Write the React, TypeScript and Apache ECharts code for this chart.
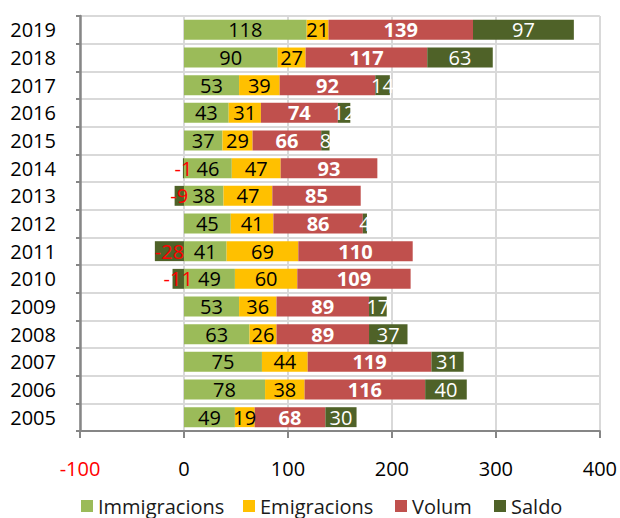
import React, { useEffect, useRef } from "react";
import * as echarts from "echarts";

// Migration flows per year (thousands)
const years = ["2005", "2006", "2007", "2008", "2009", "2010", "2011", "2012", "2013", "2014", "2015", "2016", "2017", "2018", "2019"];
const immigracions = [49, 78, 75, 63, 53, 49, 41, 45, 38, 46, 37, 43, 53, 90, 118];
const emigracions = [19, 38, 44, 26, 36, 60, 69, 41, 47, 47, 29, 31, 39, 27, 21];
const volum = [68, 116, 119, 89, 89, 109, 110, 86, 85, 93, 66, 74, 92, 117, 139];
const saldo = [30, 40, 31, 37, 17, -11, -28, 4, -9, -1, 8, 12, 14, 63, 97];

const FONT = "'Open Sans', 'DejaVu Sans', sans-serif";
const FS = 20;
const TEXT = "#000000";
const AXIS = "#868686";
const GRID = "#d9d9d9";

const COLORS = {
  immigracions: "#9BBB59",
  emigracions: "#FFC000",
  volum: "#C0504D",
  saldo: "#4F6228",
};

export default function App() {
  const ref = useRef<HTMLDivElement>(null);

  useEffect(() => {
    document.body.style.margin = "0";
    if (!ref.current) return;
    const chart = echarts.init(ref.current, undefined, { renderer: "svg" });

    const labelBase = {
      show: true,
      position: "inside",
      fontFamily: FONT,
      fontSize: FS,
    };

    const legendAt = (name: string, left: number) => ({
      data: [name],
      left,
      top: 496,
      padding: 0,
      orient: "horizontal",
      itemWidth: 12,
      itemHeight: 12,
      icon: "rect",
      textStyle: { fontFamily: FONT, fontSize: FS, color: "#1a1a1a" },
    });

    chart.setOption({
      animation: false,
      backgroundColor: "#ffffff",
      textStyle: { fontFamily: FONT },
      grid: { left: 80, right: 18, top: 16, bottom: 87 },
      legend: [
        legendAt("Immigracions", 81),
        legendAt("Emigracions", 243),
        legendAt("Volum", 395),
        legendAt("Saldo", 494),
      ],
      xAxis: {
        type: "value",
        min: -100,
        max: 400,
        interval: 100,
        axisLine: { show: true, lineStyle: { color: AXIS, width: 2 } },
        axisTick: { show: true, length: 7, lineStyle: { color: AXIS, width: 2 } },
        axisLabel: {
          margin: 27,
          fontFamily: FONT,
          fontSize: FS,
          color: (v: any) => (Number(v) < 0 ? "#FF0000" : TEXT),
        },
        splitLine: { show: true, lineStyle: { color: GRID, width: 2 } },
      },
      yAxis: [
        {
          type: "category",
          data: years,
          axisLine: { show: false },
          axisTick: { show: false },
          axisLabel: { margin: 24, fontFamily: FONT, fontSize: FS, color: TEXT },
          splitLine: { show: true, lineStyle: { color: GRID, width: 2 } },
        },
        {
          // Vertical axis line crossing at zero, with boundary ticks
          type: "category",
          data: years,
          position: "left",
          axisLine: { show: true, onZero: true, lineStyle: { color: AXIS, width: 2.5 } },
          axisTick: { show: true, length: 4, lineStyle: { color: AXIS, width: 2 } },
          axisLabel: { show: false },
          splitLine: { show: false },
        },
      ],
      series: [
        {
          name: "Immigracions",
          type: "bar",
          stack: "total",
          barWidth: "72%",
          yAxisIndex: 0,
          itemStyle: { color: COLORS.immigracions },
          label: { ...labelBase, color: "#000" },
          data: immigracions,
        },
        {
          name: "Emigracions",
          type: "bar",
          stack: "total",
          barWidth: "72%",
          yAxisIndex: 0,
          itemStyle: { color: COLORS.emigracions },
          label: { ...labelBase, color: "#000" },
          data: emigracions,
        },
        {
          name: "Volum",
          type: "bar",
          stack: "total",
          barWidth: "72%",
          yAxisIndex: 0,
          itemStyle: { color: COLORS.volum },
          label: { ...labelBase, color: "#fff", fontWeight: "bold" },
          data: volum,
        },
        {
          name: "Saldo",
          type: "bar",
          stack: "total",
          barWidth: "72%",
          yAxisIndex: 0,
          itemStyle: { color: COLORS.saldo },
          label: { ...labelBase, color: "#fff" },
          data: saldo.map((v) => ({
            value: v,
            label: { color: v < 0 ? "#FF0000" : "#ffffff" },
          })),
        },
      ],
    });

    return () => chart.dispose();
  }, []);

  return <div ref={ref} style={{ width: 620, height: 518 }} />;
}
